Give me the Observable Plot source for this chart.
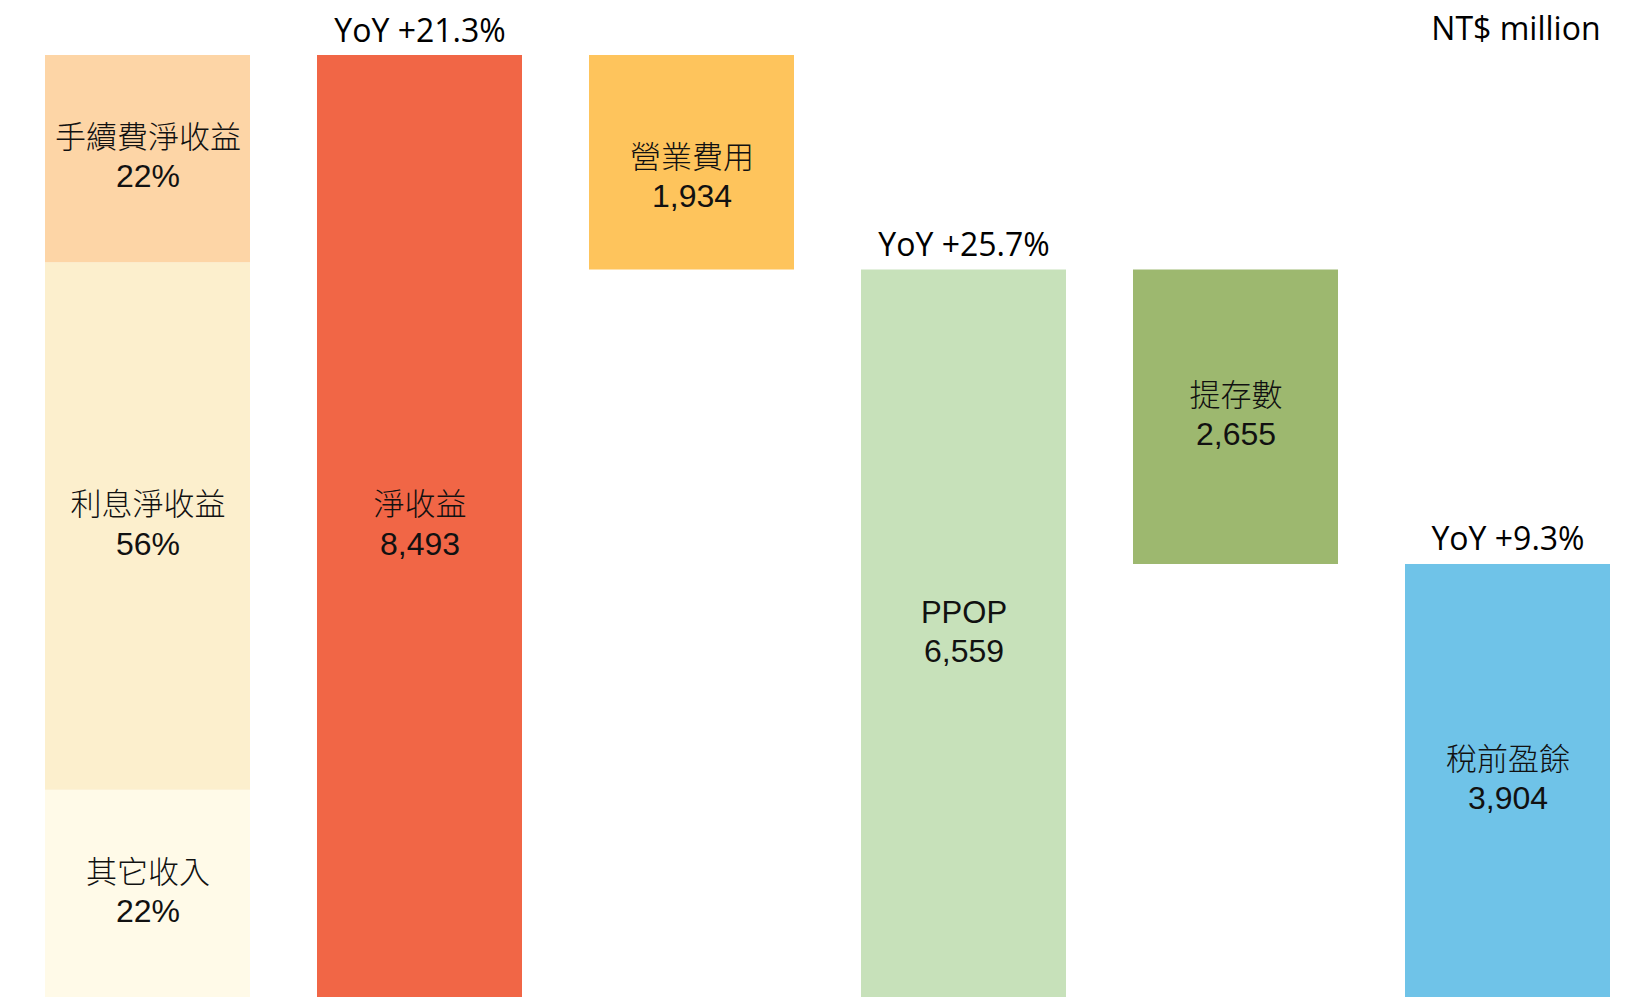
<!DOCTYPE html>
<html>
<head>
<meta charset="utf-8">
<script src="https://cdn.jsdelivr.net/npm/d3@7"></script>
<script src="https://cdn.jsdelivr.net/npm/@observablehq/plot@0.6"></script>
<style>
  html, body { margin: 0; padding: 0; background: #ffffff; overflow: hidden; }
  #chart svg { display: block; }
</style>
</head>
<body>
<div id="chart"></div>
<script>
// ---- Data (NT$ million) ----
const columns = ["收益組成", "淨收益", "營業費用", "PPOP", "提存數", "稅前盈餘"];

// Net revenue mix (column 1), listed bottom to top, shares in %
const mixLabels = ["其它收入", "利息淨收益", "手續費淨收益"];
const mixShares = [22, 56, 22];
const mixColors = ["#FFFAE8", "#FCEFCD", "#FDD5A6"];

// Waterfall steps (columns 2-6)
const stepLabels = ["淨收益", "營業費用", "PPOP", "提存數", "稅前盈餘"];
const stepValues = [8493, 1934, 6559, 2655, 3904];
const stepKinds = ["total", "decrease", "total", "decrease", "total"];
const stepColors = ["#F16646", "#FEC45C", "#C7E1BA", "#9DB86F", "#6FC3E8"];

// YoY growth labels shown above total bars
const yoyColumns = ["淨收益", "PPOP", "稅前盈餘"];
const yoyLabels = ["YoY +21.3%", "YoY +25.7%", "YoY +9.3%"];

const unitLabel = "NT$ million";

// ---- Build tables ----
const netRevenue = stepValues[0];
const bars = [];
let acc = 0;
mixLabels.forEach((label, i) => {
  const amount = mixShares[i] / 100 * netRevenue;
  bars.push({column: columns[0], label, valueText: mixShares[i] + "%", y1: acc, y2: acc + amount, fill: mixColors[i]});
  acc += amount;
});
let running = 0;
stepLabels.forEach((label, i) => {
  const v = stepValues[i];
  let y1, y2;
  if (stepKinds[i] === "total") { y1 = 0; y2 = v; running = v; }
  else { y1 = running - v; y2 = running; running = y1; }
  bars.push({column: columns[i + 1], label, valueText: d3.format(",")(v), y1, y2, fill: stepColors[i]});
});
const yoy = yoyColumns.map((c, i) => {
  const b = bars.find(d => d.column === c);
  return {column: c, text: yoyLabels[i], top: b.y2};
});
const mid = d => (d.y1 + d.y2) / 2;

const cjk = "'Liberation Sans', Arial, 'Noto Sans CJK TC', 'Noto Sans CJK SC', sans-serif";
const latin = "'Open Sans', 'Noto Sans', sans-serif";
const num = "'Liberation Sans', Arial, sans-serif";

const regular = bars.filter(d => d.label !== "營業費用");
const opex = bars.filter(d => d.label === "營業費用");

const plot = Plot.plot({
  width: 1632,
  height: 997,
  marginTop: 55,
  marginBottom: 0,
  marginLeft: 43,
  marginRight: 20,
  x: {type: "band", domain: columns, paddingInner: 0.248, paddingOuter: 0, axis: null},
  y: {domain: [0, netRevenue], axis: null},
  color: {type: "identity"},
  style: {background: "#ffffff", color: "#000000"},
  marks: [
    Plot.barY(bars, {x: "column", y1: "y1", y2: "y2", fill: "fill"}),
    Plot.text(regular, {x: "column", y: mid, text: "label", dy: -21, fontSize: 31, fontWeight: 300, fontFamily: cjk, fill: "#111"}),
    Plot.text(regular, {x: "column", y: mid, text: "valueText", dy: 18, fontSize: 32, fontFamily: num, fill: "#111"}),
    Plot.text(opex, {x: "column", y: mid, text: "label", dy: -5, fontSize: 31, fontWeight: 300, fontFamily: cjk, fill: "#111"}),
    Plot.text(opex, {x: "column", y: mid, text: "valueText", dy: 34, fontSize: 32, fontFamily: num, fill: "#111"}),
    Plot.text(yoy, {x: "column", y: "top", text: "text", lineAnchor: "bottom", dy: -14, fontSize: 32, fontFamily: latin, fill: "#000"}),
    Plot.text([unitLabel], {frameAnchor: "top-right", text: d => d, textAnchor: "end", lineAnchor: "bottom", dx: -12, dy: -16, fontSize: 32, fontFamily: latin, fill: "#000"})
  ]
});
document.getElementById("chart").appendChild(plot);
</script>
</body>
</html>
